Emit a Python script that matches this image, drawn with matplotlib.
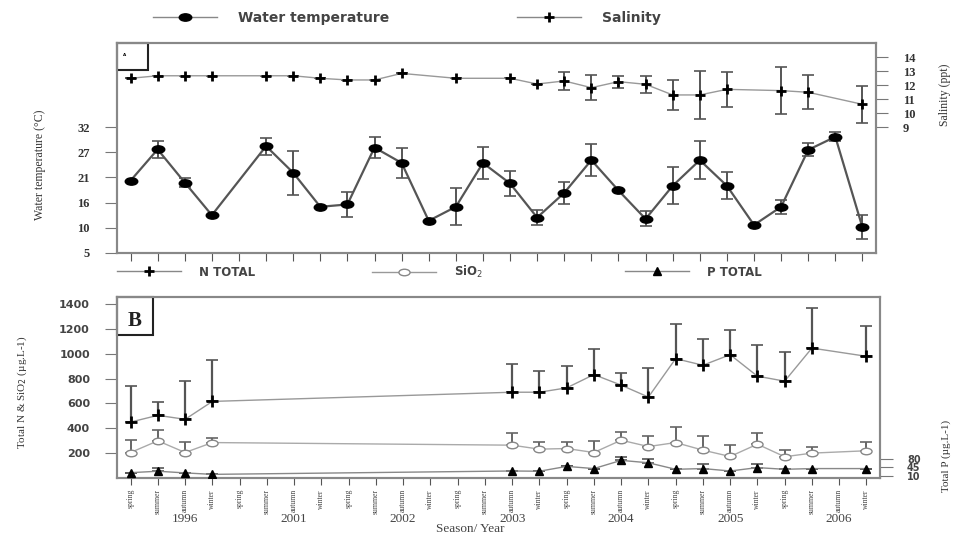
import numpy as np
import matplotlib
matplotlib.use('Agg')
import matplotlib.pyplot as plt
from matplotlib.path import Path
from matplotlib.lines import Line2D
from matplotlib.patches import Rectangle
from matplotlib.transforms import blended_transform_factory

nan = np.nan
seasons = ['spring', 'summer', 'autumn', 'winter']
years = ['1996', '2001', '2002', '2003', '2004', '2005', '2006']
season_labels = seasons * len(years)

# Panel A
water_temp = [20.5, 27.2, 20.1, 13.1, nan, 27.9, 22.2, 14.9, 15.4, 27.6, 24.3, 11.9, 14.9, 24.3,
              19.9, 12.6, 17.9, 24.9, 18.4, 12.3, 19.4, 24.9, 19.4, 11.0, 14.9, 27.1, 29.9, 10.5]
water_temp_err = [0, 1.8, 1.0, 0, nan, 1.8, 4.7, 0, 2.7, 2.3, 3.2, 0, 4.0, 3.4,
                  2.7, 1.6, 2.4, 3.5, 0, 1.6, 4.0, 4.0, 2.9, 0, 1.5, 1.4, 1.0, 2.6]
salinity = [12.48, 12.66, 12.66, 12.66, nan, 12.66, 12.66, 12.48, 12.36, 12.36, 12.83, nan, 12.48, nan,
            12.48, 12.07, 12.29, 11.81, 12.24, 12.05, 11.29, 11.29, 11.69, nan, 11.6, 11.48, nan, 10.62]
salinity_err = [0, 0, 0, 0, nan, 0, 0, 0, 0, 0, 0, nan, 0, nan,
                0, 0, 0.63, 0.9, 0.42, 0.6, 1.1, 1.7, 1.25, nan, 1.7, 1.2, nan, 1.33]
temp_ticks = [5, 10, 16, 21, 27, 32]
sal_ticks = [9, 10, 11, 12, 13, 14]

# Panel B
n_total = [450, 504, 472, 616, nan, nan, nan, nan, nan, nan, nan, nan, nan, nan,
           690, 690, 725, 832, 747, 651, 960, 907, 992, 819, 779, 1045, nan, 979]
n_total_err = [294, 109, 306, 336, nan, nan, nan, nan, nan, nan, nan, nan, nan, nan,
               227, 169, 174, 208, 98, 234, 277, 210, 200, 253, 232, 320, nan, 245]
sio2 = [205, 299, 205, 285, nan, nan, nan, nan, nan, nan, nan, nan, nan, nan,
        264, 232, 237, 205, 304, 253, 285, 224, 173, 272, 171, 200, nan, 219]
sio2_err = [99, 88, 86, 40, nan, nan, nan, nan, nan, nan, nan, nan, nan, nan,
            101, 59, 54, 94, 69, 86, 128, 115, 91, 88, 53, 53, nan, 72]
p_total = [22, 28, 21, 15, nan, nan, nan, nan, nan, nan, nan, nan, nan, nan,
           29, 28, 48, 39, 73, 63, 36, 39, 29, 43, 36, 39, nan, 39]
p_total_err = [0, 15, 0, 0, nan, nan, nan, nan, nan, nan, nan, nan, nan, nan,
               0, 0, 0, 0, 14, 14, 0, 17, 0, 16, 0, 0, nan, 0]
n_ticks = [200, 400, 600, 800, 1000, 1200, 1400]
p_ticks = [10, 45, 80]

SERIF = 'Liberation Serif'
SANS = 'DejaVu Sans'

x = np.arange(len(season_labels))

uc = Path.unit_circle()
ellipse = Path(uc.vertices * np.array([1.7, 1.0]), uc.codes)

fig = plt.figure(figsize=(9.62, 5.37), dpi=100)
fig.patch.set_facecolor('white')

ax1 = fig.add_axes([0.1216, 0.5289, 0.7890, 0.3910])
ax1b = ax1.twinx()
ax2 = fig.add_axes([0.1216, 0.1099, 0.7932, 0.3370])
ax2b = ax2.twinx()


def valid(vals, errs):
    v = np.array(vals, dtype=float)
    e = np.array(errs, dtype=float)
    m = ~np.isnan(v)
    return x[m], v[m], e[m]


# ---- Panel A ----
xt, vt, et = valid(water_temp, water_temp_err)
ax1.errorbar(xt, vt, yerr=et, fmt='none', ecolor='#555555', elinewidth=1.4, capsize=4, capthick=1.2, zorder=2)
ax1.plot(xt, vt, color='#555555', lw=1.6, marker=ellipse, ms=9, mfc='black', mec='black', zorder=3)
ax1.set_ylim(5, 50)
ax1.set_xlim(-0.5, 27.5)
ax1.set_yticks(np.linspace(5, 32, 6))
ax1.set_yticklabels([str(t) for t in temp_ticks], fontfamily=SERIF, fontsize=9, fontweight='bold', color='#333333')
ax1.set_xticks(x)
ax1.tick_params(axis='x', direction='out', length=6, color='#555555', labelbottom=False)
ax1.tick_params(axis='y', direction='out', length=8.5, color='#777777', pad=11)

xs, vs, es = valid(salinity, salinity_err)
ax1b.errorbar(xs, vs, yerr=es, fmt='none', ecolor='#555555', elinewidth=1.4, capsize=4, capthick=1.2, zorder=2)
ax1b.plot(xs, vs, color='#999999', lw=1.0, marker='+', ms=7, mew=2.0, mec='black', zorder=3)
ax1b.set_ylim(0, 15)
ax1b.set_yticks(sal_ticks)
ax1b.set_yticklabels([str(t) for t in sal_ticks], fontfamily=SERIF, fontsize=9, fontweight='bold', color='#333333')
ax1b.tick_params(axis='y', direction='out', length=8.5, color='#777777', pad=11)

for a in (ax1, ax1b):
    for s in a.spines.values():
        s.set_color('#888888')
        s.set_linewidth(1.5)

ax1.add_patch(Rectangle((0, 0.871), 0.041, 0.129, transform=ax1.transAxes, fill=False,
                        edgecolor='#222222', lw=1.5, zorder=5, clip_on=False))
ax1.text(0.008, 0.94, 'A', transform=ax1.transAxes, fontsize=3, fontweight='bold', zorder=6)

fig.text(0.042, 0.693, 'Water temperature (°C)', rotation=90, ha='center', va='center',
         fontfamily=SERIF, fontsize=8.5, color='#333333')
fig.text(0.982, 0.823, 'Salinity (ppt)', rotation=90, ha='center', va='center',
         fontfamily=SERIF, fontsize=8.5, color='#333333')

# ---- Panel B ----
xn, vn, en = valid(n_total, n_total_err)
ax2.errorbar(xn, vn, yerr=[np.zeros_like(en), en], fmt='none', ecolor='#555555', elinewidth=1.6,
             capsize=4, capthick=1.2, zorder=2)
ax2.plot(xn, vn, color='#999999', lw=1.0, marker='+', ms=8, mew=2.0, mec='black', zorder=3)

xsi, vsi, esi = valid(sio2, sio2_err)
ax2.errorbar(xsi, vsi, yerr=[np.zeros_like(esi), esi], fmt='none', ecolor='#666666', elinewidth=1.4,
             capsize=4, capthick=1.2, zorder=2)
ax2.plot(xsi, vsi, color='#aaaaaa', lw=1.0, marker=ellipse, ms=8, mfc='white', mec='#888888', mew=1.0, zorder=3)

ax2.set_ylim(0, 1456)
ax2.set_xlim(-0.5, 27.5)
ax2.set_yticks(n_ticks)
ax2.set_yticklabels([str(t) for t in n_ticks], fontfamily=SANS, fontsize=8, fontweight='bold', color='#444444')
ax2.tick_params(axis='y', direction='out', length=8.5, color='#777777', pad=11)
ax2.set_xticks(x)
ax2.set_xticklabels(season_labels, rotation=90, fontfamily=SERIF, fontsize=5.5, color='#444444')
ax2.tick_params(axis='x', direction='out', length=5, color='#555555', pad=3)

xp, vp, ep = valid(p_total, p_total_err)
ax2b.errorbar(xp, vp, yerr=[np.zeros_like(ep), ep], fmt='none', ecolor='#555555', elinewidth=1.4,
              capsize=4, capthick=1.2, zorder=2)
ax2b.plot(xp, vp, color='#888888', lw=1.0, marker='^', ms=6, mfc='black', mec='black', zorder=3)
ax2b.set_ylim(0, 750)
ax2b.set_yticks(p_ticks)
ax2b.set_yticklabels([str(t) for t in p_ticks], fontfamily=SANS, fontsize=7, fontweight='bold', color='#444444')
ax2b.tick_params(axis='y', direction='out', length=9.4, color='#777777', pad=10)

for a in (ax2, ax2b):
    for s in a.spines.values():
        s.set_color('#888888')
        s.set_linewidth(1.5)

ax2.add_patch(Rectangle((0, 0.79), 0.047, 0.21, transform=ax2.transAxes, fill=False,
                        edgecolor='#222222', lw=1.5, zorder=5, clip_on=False))
ax2.text(0.023, 0.87, 'B', transform=ax2.transAxes, ha='center', va='center',
         fontfamily=SERIF, fontsize=15, fontweight='bold', color='#222222', zorder=6)

trans = blended_transform_factory(ax2.transData, fig.transFigure)
for i, yr in enumerate(years):
    ax2.text(4 * i + 1.5 + 0.5, 0.0335, yr, transform=trans, ha='center', va='center',
             fontfamily=SERIF, fontsize=9.5, color='#444444')
fig.text(0.4886, 0.014, 'Season/ Year', ha='center', va='center', fontfamily=SERIF, fontsize=9.5,
         color='#444444')

fig.text(0.023, 0.27, 'Total N & SiO$_2$ (µg.L-1)', rotation=90, ha='center', va='center',
         fontfamily=SERIF, fontsize=8, color='#333333')
fig.text(0.984, 0.151, 'Total P (µg.L-1)', rotation=90, ha='center', va='center',
         fontfamily=SERIF, fontsize=8, color='#333333')

# ---- Legends ----
leg_items = [
    (Line2D([], [], color='#888888', lw=1.0, marker=ellipse, ms=9, mfc='black', mec='black'),
     'Water temperature', 153, 18, 10),
    (Line2D([], [], color='#888888', lw=1.0, marker='+', ms=7, mew=2.0, mec='black'),
     'Salinity', 517, 18, 10),
    (Line2D([], [], color='#888888', lw=1.0, marker='+', ms=7, mew=2.0, mec='black'),
     'N TOTAL', 117, 272, 8.5),
    (Line2D([], [], color='#999999', lw=1.0, marker=ellipse, ms=8, mfc='white', mec='#888888'),
     'SiO$_2$', 372, 272, 8.5),
    (Line2D([], [], color='#888888', lw=1.0, marker='^', ms=6, mfc='black', mec='black'),
     'P TOTAL', 625, 272, 8.5),
]
for h, lab, px, py, fs in leg_items:
    hl = 64 / (fs * 100 / 72)
    lg = fig.legend(handles=[h], labels=[lab], loc='center left',
                    bbox_to_anchor=(px / 962, 1 - py / 537), frameon=False,
                    borderpad=0, borderaxespad=0, handlelength=hl, handletextpad=1.5,
                    prop={'family': SANS, 'size': fs, 'weight': 'bold'})
    for t in lg.get_texts():
        t.set_color('#444444')

fig.savefig('out.png', dpi=100, facecolor='white')
